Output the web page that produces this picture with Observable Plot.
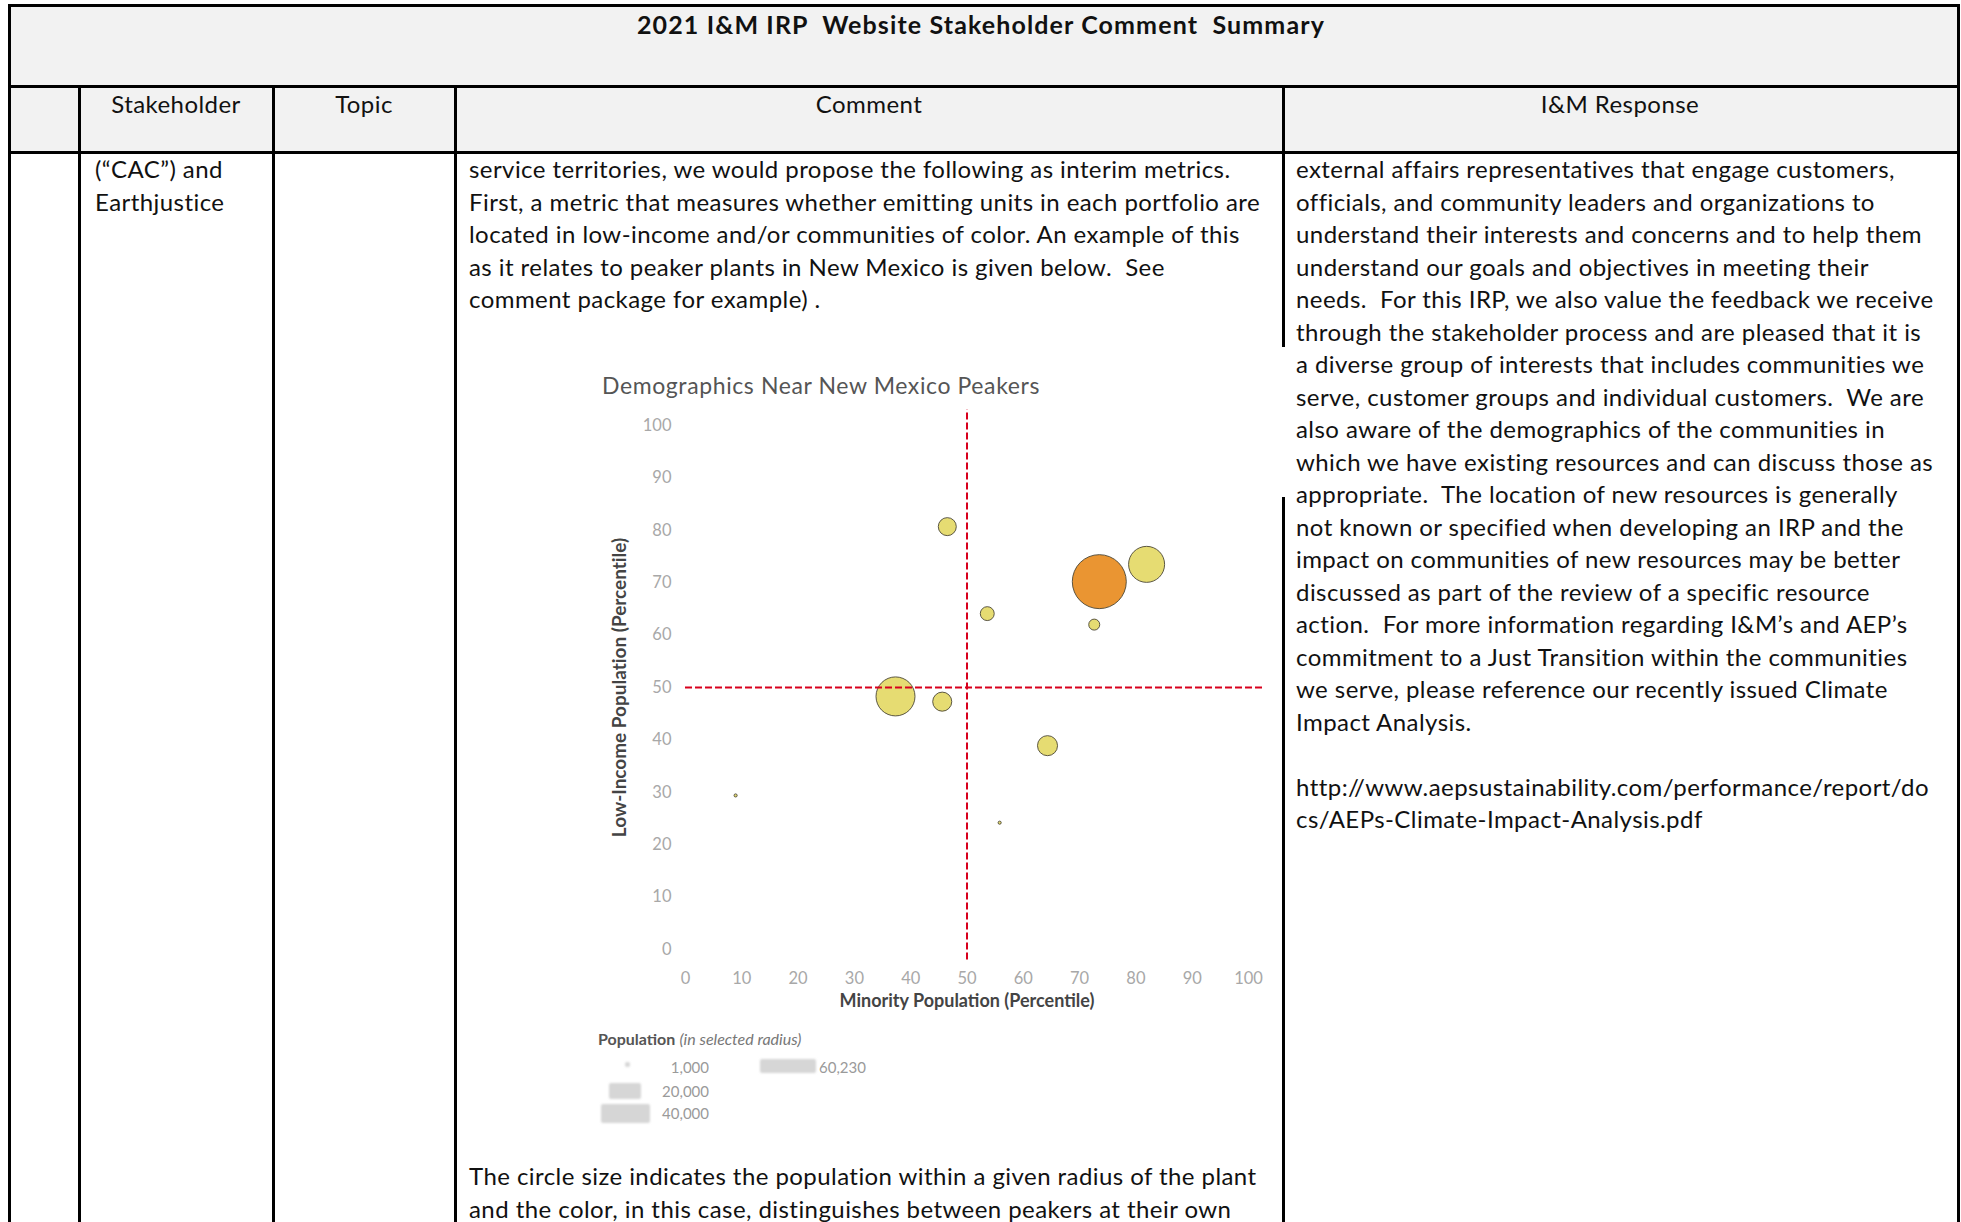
<!DOCTYPE html>
<html><head><meta charset="utf-8">
<script src="https://cdn.jsdelivr.net/npm/d3@7"></script>
<script src="https://cdn.jsdelivr.net/npm/@observablehq/plot@0.6"></script>
<style>
html,body{margin:0;padding:0;background:#fff;}
body{width:1961px;height:1222px;overflow:hidden;position:relative;font-family:Lato,"Open Sans",sans-serif;color:#000;}
.bx{position:absolute;}
.ln{position:absolute;white-space:pre;font-size:24px;height:32px;line-height:32px;color:#111;}
.ctr{transform:translateX(-50%);}
.lg{position:absolute;white-space:pre;font-family:Lato,sans-serif;color:#9a9a9a;font-size:15px;line-height:16px;}
.sw{position:absolute;background:#d6d6d6;border-radius:2px;filter:blur(0.8px);}
</style></head><body>
<script>
// ---------- data ----------
const minority   = [46.5, 73.5, 81.9, 53.6, 72.6, 37.3, 45.6, 64.3, 8.9, 55.8];
const lowIncome  = [80.7, 70.2, 73.5, 64.1, 62.0, 48.3, 47.3, 38.9, 29.4, 24.2];
const population = [6700, 60230, 26800, 4000, 2500, 31400, 7500, 8300, 200, 200];
const group      = ["other","own","other","other","other","other","other","other","other","other"];
const groups     = ["own","other"];
const xTicks     = [0,10,20,30,40,50,60,70,80,90,100];
const yTicks     = [0,10,20,30,40,50,60,70,80,90,100];
const threshold  = 50;
const legendValues = ["1,000","20,000","40,000","60,230"];

const chartTitle = "Demographics Near New Mexico Peakers";
const xLabel = "Minority Population (Percentile)";
const yLabel = "Low-Income Population (Percentile)";

const docTitle = "2021 I&M IRP  Website Stakeholder Comment  Summary";
const headers = ["Stakeholder","Topic","Comment","I&M Response"];
const stakeholderLines = ["(\u201cCAC\u201d) and","Earthjustice"];
const commentLines = [
 "service territories, we would propose the following as interim metrics.",
 "First, a metric that measures whether emitting units in each portfolio are",
 "located in low-income and/or communities of color. An example of this",
 "as it relates to peaker plants in New Mexico is given below.  See",
 "comment package for example) ."
];
const commentAfter = [
 "The circle size indicates the population within a given radius of the plant",
 "and the color, in this case, distinguishes between peakers at their own"
];
const responseLines = [
 "external affairs representatives that engage customers,",
 "officials, and community leaders and organizations to",
 "understand their interests and concerns and to help them",
 "understand our goals and objectives in meeting their",
 "needs.  For this IRP, we also value the feedback we receive",
 "through the stakeholder process and are pleased that it is",
 "a diverse group of interests that includes communities we",
 "serve, customer groups and individual customers.  We are",
 "also aware of the demographics of the communities in",
 "which we have existing resources and can discuss those as",
 "appropriate.  The location of new resources is generally",
 "not known or specified when developing an IRP and the",
 "impact on communities of new resources may be better",
 "discussed as part of the review of a specific resource",
 "action.  For more information regarding I&M\u2019s and AEP\u2019s",
 "commitment to a Just Transition within the communities",
 "we serve, please reference our recently issued Climate",
 "Impact Analysis.",
 "",
 "http://www.aepsustainability.com/performance/report/do",
 "cs/AEPs-Climate-Impact-Analysis.pdf"
];

// ---------- page ----------
const B = document.body;
function box(x,y,w,h,bg){const d=document.createElement("div");d.className="bx";Object.assign(d.style,{left:x+"px",top:y+"px",width:w+"px",height:h+"px",background:bg});B.appendChild(d);return d;}
const bodyEls=[];
function line(t,x,yc,center,extra){const d=document.createElement("div");d.className="ln"+(center?" ctr":"");d.textContent=t;d.style.left=x+"px";d.style.top=(yc-16)+"px";if(extra)Object.assign(d.style,extra);B.appendChild(d);return d;}

// header backgrounds
box(9,5,1950,147,"#f2f2f2");
// borders
const K="#000";
box(8,4,1952,3,K);          // top
box(8,4,3,1222,K);          // left
box(1957,4,3,1222,K);       // right
box(8,85,1952,3,K);         // title row bottom
box(8,151,1952,3,K);        // header row bottom
[78,272,454,1282].forEach(x=>box(x,85,3,1140,K));

const titleEl = line(docTitle,981,24,true,{fontWeight:"bold",fontSize:"25px"});
const hx=[176,364,869,1620];
headers.forEach((h,i)=>bodyEls.push(line(h,hx[i],104,true)));
stakeholderLines.forEach((t,i)=>bodyEls.push(line(t,95,169+32.5*i)));
const cEls = commentLines.map((t,i)=>line(t,469,169+32.5*i));
bodyEls.push(...cEls);
commentAfter.forEach((t,i)=>bodyEls.push(line(t,469,1176+32.5*i)));
responseLines.forEach((t,i)=>{ if(t) bodyEls.push(line(t,1296,169+32.5*i)); });

// ---------- chart ----------
const data = minority.map((m,i)=>({minority:m, lowIncome:lowIncome[i], population:population[i], group:group[i]}));

// embedded picture covers part of the cell border
box(585,347,702,150,"#fff");

const ct = document.createElement("div");
ct.className="bx"; ct.textContent = chartTitle;
Object.assign(ct.style,{left:"602px",top:"371px",fontFamily:"Lato,sans-serif",fontSize:"23px",color:"#555",whiteSpace:"nowrap",lineHeight:"28px"});
B.appendChild(ct);

const chart = Plot.plot({
  width:700, height:630,
  marginLeft:95, marginRight:42, marginTop:25, marginBottom:81,
  style:{background:"transparent", fontFamily:"Lato,sans-serif", fontSize:"16.5px", color:"#a8a8a8", overflow:"visible"},
  x:{domain:[0,100], ticks:xTicks, tickSize:0, tickPadding:23, label:null},
  y:{domain:[0,100], ticks:yTicks, tickSize:0, tickPadding:14, label:null},
  r:{type:"sqrt", domain:[0,60230], range:[0,27]},
  color:{domain:groups, range:["#ea9532","#e6dc72"]},
  marks:[
    Plot.dot(data,{x:"minority", y:"lowIncome", r:"population", fill:"group", stroke:"#4b4636", strokeWidth:0.9, sort:{channel:"-r"}}),
    Plot.ruleY([threshold],{x1:0, x2:103, stroke:"#d8001c", strokeWidth:2, strokeDasharray:"7,3"}),
    Plot.ruleX([threshold],{y1:-2, y2:103, stroke:"#d8001c", strokeWidth:2, strokeDasharray:"7,3"}),
    Plot.text([xLabel],{frameAnchor:"bottom", dy:57, text:d=>d, fill:"#444", fontWeight:"bold", fontSize:18}),
    Plot.text([yLabel],{frameAnchor:"left", textAnchor:"middle", dx:-66, rotate:-90, text:d=>d, fill:"#444", fontWeight:"bold", fontSize:19})
  ]
});
chart.style.position="absolute"; chart.style.left="590px"; chart.style.top="400px";
B.appendChild(chart);
const yLab = d3.select(chart).selectAll("text").filter(function(){return this.textContent===yLabel;});

// legend
function lg(t,x,y,extra){const d=document.createElement("div");d.className="lg";d.textContent=t;d.style.left=x+"px";d.style.top=(y-8)+"px";if(extra)Object.assign(d.style,extra);B.appendChild(d);return d;}
const lt = document.createElement("div"); lt.className="lg";
lt.innerHTML = '<b style="color:#555">Population</b> <i style="color:#777">(in selected radius)</i>';
Object.assign(lt.style,{left:"598px",top:"1030px",fontSize:"16px",lineHeight:"18px"}); B.appendChild(lt);
const sw=[[625,1062,5,5],[609,1083,32,16],[601,1104,49,19],[760,1059,56,14]];
sw.forEach(([x,y,w,h])=>{const d=box(x,y,w,h,"#d6d6d6");d.className="sw";});
const lpos=[[709,1067,true],[709,1091,true],[709,1113,true],[819,1067,false]];
legendValues.forEach((v,i)=>{const [x,y,r]=lpos[i];const d=lg(v,x,y);if(r){d.style.transform="translateX(-100%)";}});

// fit fonts to reference widths
function fit(){
  const ref = cEls[1]; ref.style.letterSpacing="0px";
  const w = ref.getBoundingClientRect().width, n = commentLines[1].length;
  const ls = (790 - w)/n;
  bodyEls.forEach(e=>e.style.letterSpacing=ls+"px");
  titleEl.style.letterSpacing="0px";
  const tw = titleEl.getBoundingClientRect().width;
  titleEl.style.letterSpacing=((688-tw)/docTitle.length)+"px";
  ct.style.letterSpacing="0px";
  const cw = ct.getBoundingClientRect().width;
  ct.style.letterSpacing=((438-cw)/chartTitle.length)+"px";
  yLab.style("letter-spacing","0px");
  const node = yLab.node();
  if (node && node.getComputedTextLength) {
    const yl = node.getComputedTextLength();
    const ls2 = Math.max(-0.5, Math.min(1.5, (300 - yl)/yLabel.length));
    yLab.style("letter-spacing", ls2+"px");
  }
}
fit();
if (document.fonts && document.fonts.ready) document.fonts.ready.then(fit);
</script>
</body></html>
